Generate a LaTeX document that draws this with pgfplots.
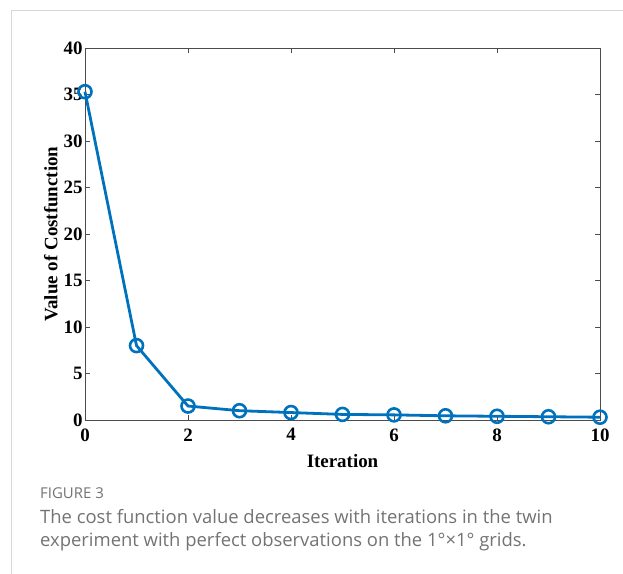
\documentclass[border=0pt]{standalone}
\usepackage{pgfplots}
\pgfplotsset{compat=1.18}
\usepackage{fontspec}
\setmainfont{Liberation Serif}
\newfontfamily\capfont{Open Sans}
\definecolor{mblue}{RGB}{0,114,189}
\definecolor{capgray}{RGB}{115,115,115}
\definecolor{framegray}{RGB}{215,215,215}
\begin{document}
\begin{tikzpicture}[x=1bp,y=1bp]
\path[use as bounding box] (0,0) rectangle (623,574);
\draw[framegray,line width=1bp] (623,563) -- (11,563) -- (11,0);
\begin{axis}[
  at={(85bp,154bp)}, anchor=south west,
  scale only axis, width=515bp, height=372bp,
  xmin=0, xmax=10, ymin=0, ymax=40,
  xtick={0,2,...,10}, ytick={0,5,...,40},
  tick align=inside, major tick length=5bp,
  axis line style={black!70, line width=0.9bp},
  every tick/.style={black!70, line width=0.9bp},
  /pgf/number format/assume math mode=true,
  tick label style={font=\fontsize{19}{21}\selectfont\bfseries},
  xticklabel style={yshift=-5bp},
  yticklabel style={xshift=1bp},
  xlabel={Iteration}, ylabel={Value of Costfunction},
  label style={font=\fontsize{19}{21}\selectfont\bfseries},
  xlabel style={yshift=-6bp},
  ylabel style={yshift=-1bp},
  clip=false,
]
\addplot[mblue, line width=2.8bp, mark=o, mark size=6.5bp, mark options={line width=2.6bp}]
coordinates {(0,35.3) (1,8.0) (2,1.5) (3,1.0) (4,0.8) (5,0.6) (6,0.55) (7,0.45) (8,0.4) (9,0.35) (10,0.3)};
\end{axis}
\node[anchor=base west, capgray, font=\capfont\fontsize{15}{17}\selectfont, inner sep=0pt] at (40,75) {FIGURE 3};
\node[anchor=base west, capgray, font=\capfont\fontsize{18.5}{22}\selectfont, inner sep=0pt] at (40,50) {The cost function value decreases with iterations in the twin};
\node[anchor=base west, capgray, font=\capfont\fontsize{18.5}{22}\selectfont, inner sep=0pt] at (40,27) {experiment with perfect observations on the 1°×1° grids.};
\end{tikzpicture}
\end{document}
